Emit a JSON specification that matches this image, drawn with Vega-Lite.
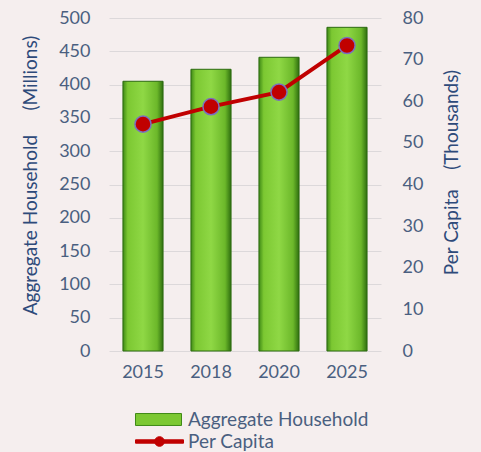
{
  "$schema": "https://vega.github.io/schema/vega-lite/v6.json",
  "autosize": "none",
  "width": 272,
  "height": 333,
  "padding": {"left": 109, "top": 18, "right": 100, "bottom": 101},
  "background": "#f5eeee",
  "config": {
    "view": {"stroke": null},
    "font": "Lato",
    "axis": {"labelFont": "Lato", "titleFont": "Lato", "labelColor": "#4a5f80", "titleColor": "#2e4a7a", "labelFontSize": 18, "titleFontSize": 19, "titleFontWeight": "normal", "domain": false, "ticks": false}
  },
  "data": {
    "values": [
      {"year": "2015", "aggregate": 405, "perCapita": 54.5},
      {"year": "2018", "aggregate": 423, "perCapita": 58.7},
      {"year": "2020", "aggregate": 441, "perCapita": 62.2},
      {"year": "2025", "aggregate": 486, "perCapita": 73.4}
    ]
  },
  "encoding": {
    "x": {
      "field": "year", "type": "nominal",
      "scale": {"paddingInner": 0.41, "paddingOuter": 0.205},
      "axis": {"title": null, "labelAngle": 0, "labelPadding": 12, "labelColor": "#4a5f80"}
    }
  },
  "layer": [
    {
      "mark": {
        "type": "bar",
        "stroke": "#2c6a10",
        "strokeWidth": 1,
        "fill": {
          "gradient": "linear", "x1": 0, "y1": 0, "x2": 1, "y2": 0,
          "stops": [
            {"offset": 0, "color": "#3f8a16"},
            {"offset": 0.12, "color": "#7cc832"},
            {"offset": 0.5, "color": "#8fd845"},
            {"offset": 0.85, "color": "#6cb82a"},
            {"offset": 1, "color": "#2f6f0f"}
          ]
        }
      },
      "encoding": {
        "y": {
          "field": "aggregate", "type": "quantitative",
          "scale": {"domain": [0, 500]},
          "axis": {
            "values": [0, 50, 100, 150, 200, 250, 300, 350, 400, 450, 500],
            "title": "Aggregate Household\u00a0\u00a0\u00a0\u00a0\u00a0(Millions)",
            "titleAngle": -90, "titleX": -79, "titleY": 157, "titleBaseline": "middle", "titleAlign": "center",
            "labelPadding": 19, "grid": true, "gridColor": "#dcd8da", "gridWidth": 1
          }
        }
      }
    },
    {
      "mark": {"type": "bar", "fillOpacity": 0, "strokeOpacity": 0},
      "encoding": {
        "y": {"field": "aggregate", "type": "quantitative", "scale": {"domain": [0, 500]}, "axis": null},
        "fill": {
          "datum": "Aggregate Household",
          "scale": {"range": ["#7cc832"]},
          "legend": {
            "orient": "none", "legendX": 26, "legendY": 378, "padding": 0, "title": null,
            "symbolType": "M-1,-0.26H1V0.26H-1Z", "symbolSize": 2116, "symbolStrokeColor": "#3f8a16", "symbolStrokeWidth": 1,
            "symbolOpacity": 1, "symbolFillColor": "#7cc832",
            "labelFont": "Lato", "labelFontSize": 19, "labelColor": "#4a5f80", "labelOffset": 6, "labelLimit": 0
          }
        }
      }
    },
    {
      "mark": {"type": "line", "color": "#c00000", "strokeWidth": 4},
      "encoding": {
        "y": {
          "field": "perCapita", "type": "quantitative",
          "scale": {"domain": [0, 80]},
          "axis": {
            "orient": "right",
            "values": [0, 10, 20, 30, 40, 50, 60, 70, 80],
            "title": "Per Capita\u00a0\u00a0\u00a0\u00a0(Thousands)",
            "titleAngle": -90, "titleX": 70, "titleY": 154, "titleBaseline": "middle", "titleAlign": "center",
            "labelPadding": 21, "grid": false
          }
        },
        "stroke": {
          "datum": "Per Capita",
          "scale": {"range": ["#c00000"]},
          "legend": {
            "orient": "none", "legendX": 26, "legendY": 399, "padding": 0, "title": null,
            "symbolType": "M-1,-0.07H1V0.07H-1Z M0.2,0A0.2,0.2 0 1,1 -0.2,0A0.2,0.2 0 1,1 0.2,0Z",
            "symbolSize": 2304, "symbolFillColor": "#c00000", "symbolStrokeWidth": 1,
            "labelFont": "Lato", "labelFontSize": 19, "labelColor": "#4a5f80", "labelOffset": 4, "labelLimit": 0
          }
        }
      }
    },
    {
      "mark": {"type": "point", "filled": true, "fill": "#c00000", "stroke": "#7a6fc0", "strokeWidth": 1.5, "size": 260, "opacity": 1},
      "encoding": {
        "y": {"field": "perCapita", "type": "quantitative", "scale": {"domain": [0, 80]}, "axis": null}
      }
    }
  ],
  "resolve": {"scale": {"y": "independent"}}
}
